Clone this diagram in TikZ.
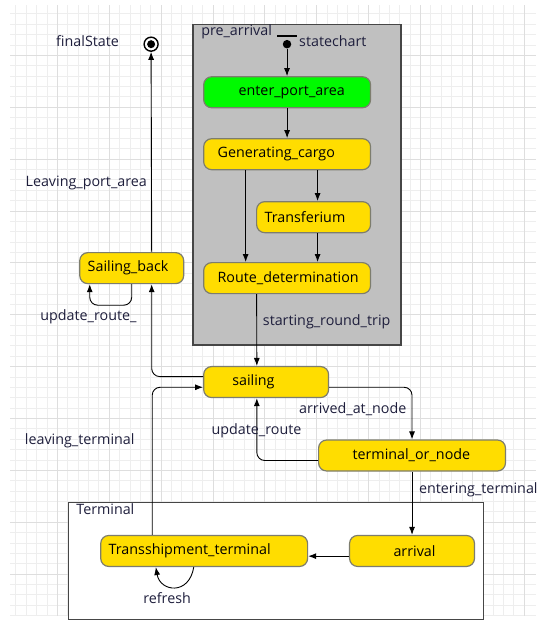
\documentclass[tikz,border=0pt]{standalone}
\usepackage{fontspec}
\setmainfont{Open Sans}
\usetikzlibrary{arrows.meta}

\definecolor{stateyellow}{RGB}{255,221,0}
\definecolor{stategreen}{RGB}{0,250,0}
\definecolor{stateborder}{RGB}{125,125,110}
\definecolor{labeltext}{RGB}{30,30,60}
\definecolor{gridminor}{RGB}{238,238,238}
\definecolor{gridmajor}{RGB}{222,222,222}
\definecolor{composite}{RGB}{192,192,192}
\definecolor{compositeborder}{RGB}{70,70,70}

\begin{document}
\begin{tikzpicture}[x=1pt, y=-1pt, font=\fontsize{14.3}{17}\selectfont,
	state/.style={draw=stateborder, line width=1.2pt, rounded corners=8pt,
		anchor=north west, inner xsep=0pt, align=left, minimum height=31pt, text=black},
	trans/.style={-{Latex[length=8pt,width=6pt]}, line width=0.9pt, rounded corners=8pt},
	lbl/.style={text=labeltext, inner sep=0pt, text height=10.5pt, text depth=3.5pt}
]

% White page with the faint editor grid behind the chart
\filldraw[color=white,fill=white] (0,0) rectangle (536,626);
\foreach \i in {-4,...,45}
	\draw[gridminor] ({57+10.38*\i},5) -- ({57+10.38*\i},616);
\foreach \i in {-4,...,54}
	\draw[gridminor] (10,{55+10.38*\i}) -- (536,{55+10.38*\i});
\foreach \i in {0,...,9}
	\draw[gridmajor] ({57+51.9*\i},5) -- ({57+51.9*\i},616);
\foreach \i in {0,...,10}
	\draw[gridmajor] (10,{55+51.9*\i}) -- (536,{55+51.9*\i});

% Composite states
\filldraw[draw=compositeborder, fill=composite, line width=1.2pt] (193,24) rectangle (401,345);
\filldraw[draw=compositeborder, fill=white, line width=1.2pt] (68.4,502.7) rectangle (483.7,619.3);
\node[lbl, anchor=west] (prearrival) at (201,32) {pre\_arrival};
\node[lbl, anchor=west] (terminal)   at (76,511) {Terminal};

% States
\newcommand{\stbox}[6]{
	\node[state, fill=#4, text width=#3pt]
		(#1) at (#2) {\noindent\hspace*{#5pt}#6}
	;
}
\stbox  {enter}     {203,76}   {167} {stategreen}  {35}  {enter\_port\_area}
\stbox  {gencargo}  {203,138}  {167} {stateyellow} {14}  {Generating\_cargo}
\stbox  {transf}    {256,201}  {114} {stateyellow} {8}   {Transferium}
\stbox  {routedet}  {203,262}  {167} {stateyellow} {14}  {Route\_determination}
\stbox  {sailing}   {203,366}  {125} {stateyellow} {28.7}{sailing}
\stbox  {sailback}  {79,252}   {104} {stateyellow} {8}   {Sailing\_back}
\stbox  {termnode}  {318,439.5}{187} {stateyellow} {34}  {terminal\_or\_node}
\stbox  {arrival}   {349,535}  {125} {stateyellow} {44}  {arrival}
\stbox  {transship} {100,535}  {207} {stateyellow} {8}   {Transshipment\_terminal}

% Entry point and final state
\node[circle, fill, inner sep=0pt, minimum size=8.5pt] (init) at (287,44) {};
\draw[line width=1.5pt] (277,36) -- (297,36);
\node[lbl, anchor=west] (statechart) at (299,43) {statechart};
\node[circle, draw, line width=1.4pt, minimum size=14pt, inner sep=0pt] (final) at (151,44) {};
\fill (final.center) circle (4);
\node[lbl, anchor=east] (finallbl) at (119,43) {finalState};

% Transitions
\draw[trans] (init) -- (init |- enter.north);
\draw[trans] (enter.south) -- (gencargo.north);
\draw[trans] ([xshift=-41.5]gencargo.south) -- ([xshift=-41.5]routedet.north);
\draw[trans] ([xshift=30.5]gencargo.south) -- ([xshift=4]transf.north);
\draw[trans] ([xshift=4]transf.south) -- ([xshift=30.5]routedet.north);
\draw[trans] ([xshift=-30.5]routedet.south) -- ([xshift=-9.3]sailing.north);
\draw[trans] ([yshift=5.5]sailing.west) -| ([xshift=20]sailback.south);
\draw[trans] ([xshift=20]sailback.north) -- (final.south);
\draw[trans] (sailback.south) -- ++(0,21) -| ([xshift=-42]sailback.south);
\draw[trans] ([yshift=-5.2]sailing.east) -| (termnode.north);
\draw[trans] ([yshift=-5]termnode.west) -| ([xshift=-9.3]sailing.south);
\draw[trans] (termnode.south) -- (arrival.north);
\draw[trans] ([yshift=-5.2]arrival.west) -- ([yshift=-5.2]transship.east);
\draw[trans] ([xshift=-52]transship.north) |- ([yshift=-5.2]sailing.west);
\draw[trans, rounded corners=0pt] ([xshift=-10.4]transship.south)
	.. controls (189,596) and (160,592) .. ([xshift=-48.4]transship.south);

% Transition labels
\node[lbl, anchor=west] (lstart)   at (262.7,322) {starting\_round\_trip};
\node[lbl, anchor=east] (lleave)   at (147,183)   {Leaving\_port\_area};
\node[lbl, anchor=west] (lupdback) at (40,317)    {update\_route\_};
\node[lbl, anchor=west] (larrived) at (299,410)   {arrived\_at\_node};
\node[lbl]              (lupdate)  at (256.5,431) {update\_route};
\node[lbl, anchor=west] (lleavet)  at (24.6,441.5){leaving\_terminal};
\node[lbl, anchor=west] (lenter)   at (419,490)   {entering\_terminal};
\node[lbl]              (lrefresh) at (167,600.5) {refresh};
\end{tikzpicture}
\end{document}
